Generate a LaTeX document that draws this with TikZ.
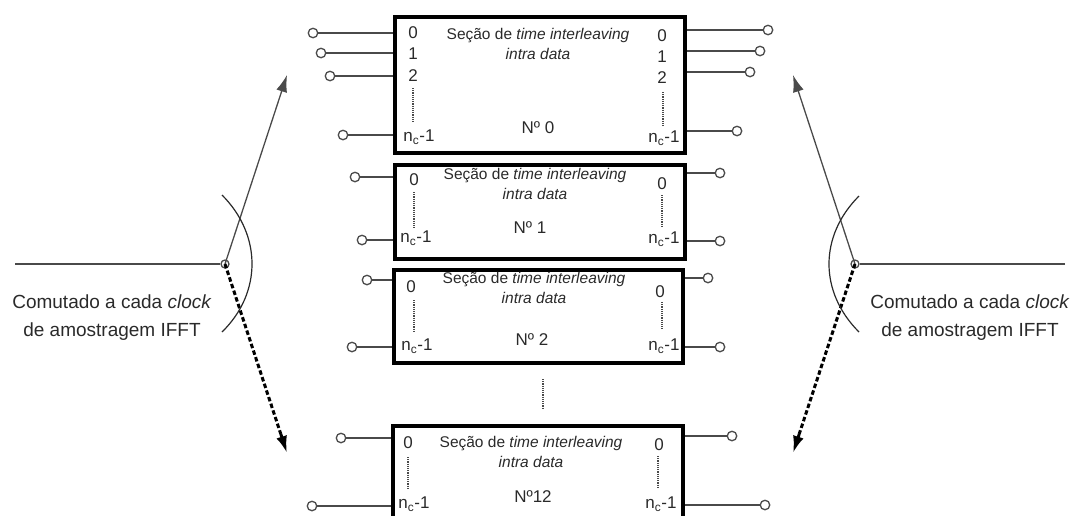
\documentclass[tikz,border=0pt]{standalone}
\usepackage{fontspec}
\setmainfont{Liberation Sans}
\usetikzlibrary{arrows.meta,calc}
\definecolor{ink}{HTML}{2A2A2A}
\definecolor{wirec}{HTML}{4A4A4A}
\begin{document}
\begin{tikzpicture}[x=1pt,y=-1pt,
  blk/.style={draw=black, line width=3.4pt, inner sep=0pt},
  term/.style={circle, draw=wirec, fill=white, minimum size=9.5pt, inner sep=0pt, line width=1.3pt},
  wire/.style={draw=wirec, line width=1.4pt},
  num/.style={inner sep=0pt, text=ink, font=\fontsize{17}{19}\selectfont},
  ttl/.style={inner sep=0pt, text=ink, align=center, font=\fontsize{15.5}{20}\selectfont},
  side/.style={inner sep=0pt, text=ink, align=center, font=\fontsize{19}{28}\selectfont},
  vdots/.style={draw=wirec, line width=1.8pt, dash pattern=on 1.2pt off 1pt},
  arc/.style={draw=ink, line width=1.2pt},
  solidarr/.style={draw=wirec, line width=1.3pt, -{Latex[length=17pt,width=11pt]}},
  dashline/.style={draw=black, line width=3pt, dash pattern=on 4.5pt off 2.5pt},
  dashhead/.style={draw=black, line width=3pt, -{Latex[length=17pt,width=11pt]}}
]
\useasboundingbox (0,0) rectangle (1074,515);
\clip (0,0) rectangle (1074,515);

% ---------- boxes ----------
\node[blk, minimum width=290pt, minimum height=136pt] (b0) at (540,85) {};
\node[blk, minimum width=290pt, minimum height=94pt] (b1) at (540,212) {};
\node[blk, minimum width=289pt, minimum height=93pt] (b2) at (538.5,316.5) {};
\node[blk, minimum width=290pt, minimum height=104pt] (b12) at (538,478) {};

% ---------- box 0 ----------
\node[ttl] (b0t) at (538,44) {Seção de \textit{time interleaving}\\\textit{intra data}};
\node[num] (b0n) at (538,128) {Nº 0};
\node[num] (b0l0) at (413,33) {0};
\node[num] (b0l1) at (413,54) {1};
\node[num] (b0l2) at (413,76) {2};
\node[num] (b0ln) at (419,137) {n\textsubscript{c}-1};
\node[num] (b0r0) at (662,36) {0};
\node[num] (b0r1) at (662,57) {1};
\node[num] (b0r2) at (662,78) {2};
\node[num] (b0rn) at (664,138) {n\textsubscript{c}-1};
\coordinate (b0ld1) at (413,88); \coordinate (b0ld2) at (413,123);
\coordinate (b0rd1) at (663,92); \coordinate (b0rd2) at (663,126);
\draw[vdots] (b0ld1) -- (b0ld2);
\draw[vdots] (b0rd1) -- (b0rd2);
\node[term] (tb0l0) at (313,33) {};
\node[term] (tb0l1) at (321,53) {};
\node[term] (tb0l2) at (330,76) {};
\node[term] (tb0ln) at (343,135) {};
\node[term] (tb0r0) at (768,30) {};
\node[term] (tb0r1) at (760,51) {};
\node[term] (tb0r2) at (750,72) {};
\node[term] (tb0rn) at (737,131) {};
\foreach \t in {tb0l0,tb0l1,tb0l2,tb0ln} \draw[wire] (\t) -- (b0.west |- \t);
\foreach \t in {tb0r0,tb0r1,tb0r2,tb0rn} \draw[wire] (\t) -- (b0.east |- \t);

% ---------- box 1 ----------
\node[ttl] (b1t) at (535,184) {Seção de \textit{time interleaving}\\\textit{intra data}};
\node[num] (b1n) at (530,228) {Nº 1};
\node[num] (b1l0) at (414,180) {0};
\node[num] (b1ln) at (416,238) {n\textsubscript{c}-1};
\node[num] (b1r0) at (662,184) {0};
\node[num] (b1rn) at (664,239) {n\textsubscript{c}-1};
\coordinate (b1ld1) at (414,192); \coordinate (b1ld2) at (414,229);
\coordinate (b1rd1) at (662,195); \coordinate (b1rd2) at (662,227);
\draw[vdots] (b1ld1) -- (b1ld2);
\draw[vdots] (b1rd1) -- (b1rd2);
\node[term] (tb1l0) at (355,177) {};
\node[term] (tb1ln) at (362,240) {};
\node[term] (tb1r0) at (720,173) {};
\node[term] (tb1rn) at (720,241) {};
\foreach \t in {tb1l0,tb1ln} \draw[wire] (\t) -- (b1.west |- \t);
\foreach \t in {tb1r0,tb1rn} \draw[wire] (\t) -- (b1.east |- \t);

% ---------- box 2 ----------
\node[ttl] (b2t) at (534,288) {Seção de \textit{time interleaving}\\\textit{intra data}};
\node[num] (b2n) at (532,340) {Nº 2};
\node[num] (b2l0) at (411,287) {0};
\node[num] (b2ln) at (417,346) {n\textsubscript{c}-1};
\node[num] (b2r0) at (660,292) {0};
\node[num] (b2rn) at (664,346) {n\textsubscript{c}-1};
\coordinate (b2ld1) at (414,300); \coordinate (b2ld2) at (414,331);
\coordinate (b2rd1) at (662,302); \coordinate (b2rd2) at (662,329);
\draw[vdots] (b2ld1) -- (b2ld2);
\draw[vdots] (b2rd1) -- (b2rd2);
\node[term] (tb2l0) at (367,280) {};
\node[term] (tb2ln) at (352,347) {};
\node[term] (tb2r0) at (708,278) {};
\node[term] (tb2rn) at (720,347) {};
\foreach \t in {tb2l0,tb2ln} \draw[wire] (\t) -- (b2.west |- \t);
\foreach \t in {tb2r0,tb2rn} \draw[wire] (\t) -- (b2.east |- \t);

% ---------- ellipsis between box 2 and box 12 ----------
\coordinate (md1) at (543,379); \coordinate (md2) at (543,408);
\draw[vdots] (md1) -- (md2);

% ---------- box 12 ----------
\node[ttl] (b12t) at (531,452) {Seção de \textit{time interleaving}\\\textit{intra data}};
\node[num] (b12n) at (533,497) {Nº12};
\node[num] (b12l0) at (408,443) {0};
\node[num] (b12ln) at (414,504) {n\textsubscript{c}-1};
\node[num] (b12r0) at (659,445) {0};
\node[num] (b12rn) at (661,504) {n\textsubscript{c}-1};
\coordinate (b12ld1) at (408,457); \coordinate (b12ld2) at (408,490);
\coordinate (b12rd1) at (658,456); \coordinate (b12rd2) at (658,488);
\draw[vdots] (b12ld1) -- (b12ld2);
\draw[vdots] (b12rd1) -- (b12rd2);
\node[term] (tb12l0) at (341,438) {};
\node[term] (tb12ln) at (312,506) {};
\node[term] (tb12r0) at (732,436) {};
\node[term] (tb12rn) at (765,505) {};
\foreach \t in {tb12l0,tb12ln} \draw[wire] (\t) -- (b12.west |- \t);
\foreach \t in {tb12r0,tb12rn} \draw[wire] (\t) -- (b12.east |- \t);

% ---------- left switch ----------
\coordinate (lin) at (15,264);
\node[circle, draw=wirec, minimum size=8pt, inner sep=0pt, line width=1.3pt] (lp) at (225,264) {};
\coordinate (lup) at (287,75);
\coordinate (ldn) at (287,453);
\draw[wire] (lin) -- (lp);
\draw[solidarr] (lp.center) -- (lup);
\coordinate (ldm) at ($(ldn)!20pt!(lp)$);
\draw[dashline] (lp.center) -- (ldm);
\draw[dashhead] (ldm) -- (ldn);
\coordinate (la1) at (222,195); \coordinate (la2) at (222,332);
\draw[arc] (la1) .. controls (262,235) and (262,293) .. (la2);
\node[side] (ltxt) at (112,318) {Comutado a cada \textit{clock}\\de amostragem IFFT};

% ---------- right switch ----------
\coordinate (rin) at (1065,264);
\node[circle, draw=wirec, minimum size=8pt, inner sep=0pt, line width=1.3pt] (rp) at (855,264) {};
\coordinate (rup) at (793,75);
\coordinate (rdn) at (793,453);
\draw[wire] (rin) -- (rp);
\draw[solidarr] (rp.center) -- (rup);
\coordinate (rdm) at ($(rdn)!20pt!(rp)$);
\draw[dashline] (rp.center) -- (rdm);
\draw[dashhead] (rdm) -- (rdn);
\coordinate (ra1) at (859,196); \coordinate (ra2) at (859,332);
\draw[arc] (ra1) .. controls (819,236) and (819,292) .. (ra2);
\node[side] (rtxt) at (970,318) {Comutado a cada \textit{clock}\\de amostragem IFFT};
\end{tikzpicture}
\end{document}
